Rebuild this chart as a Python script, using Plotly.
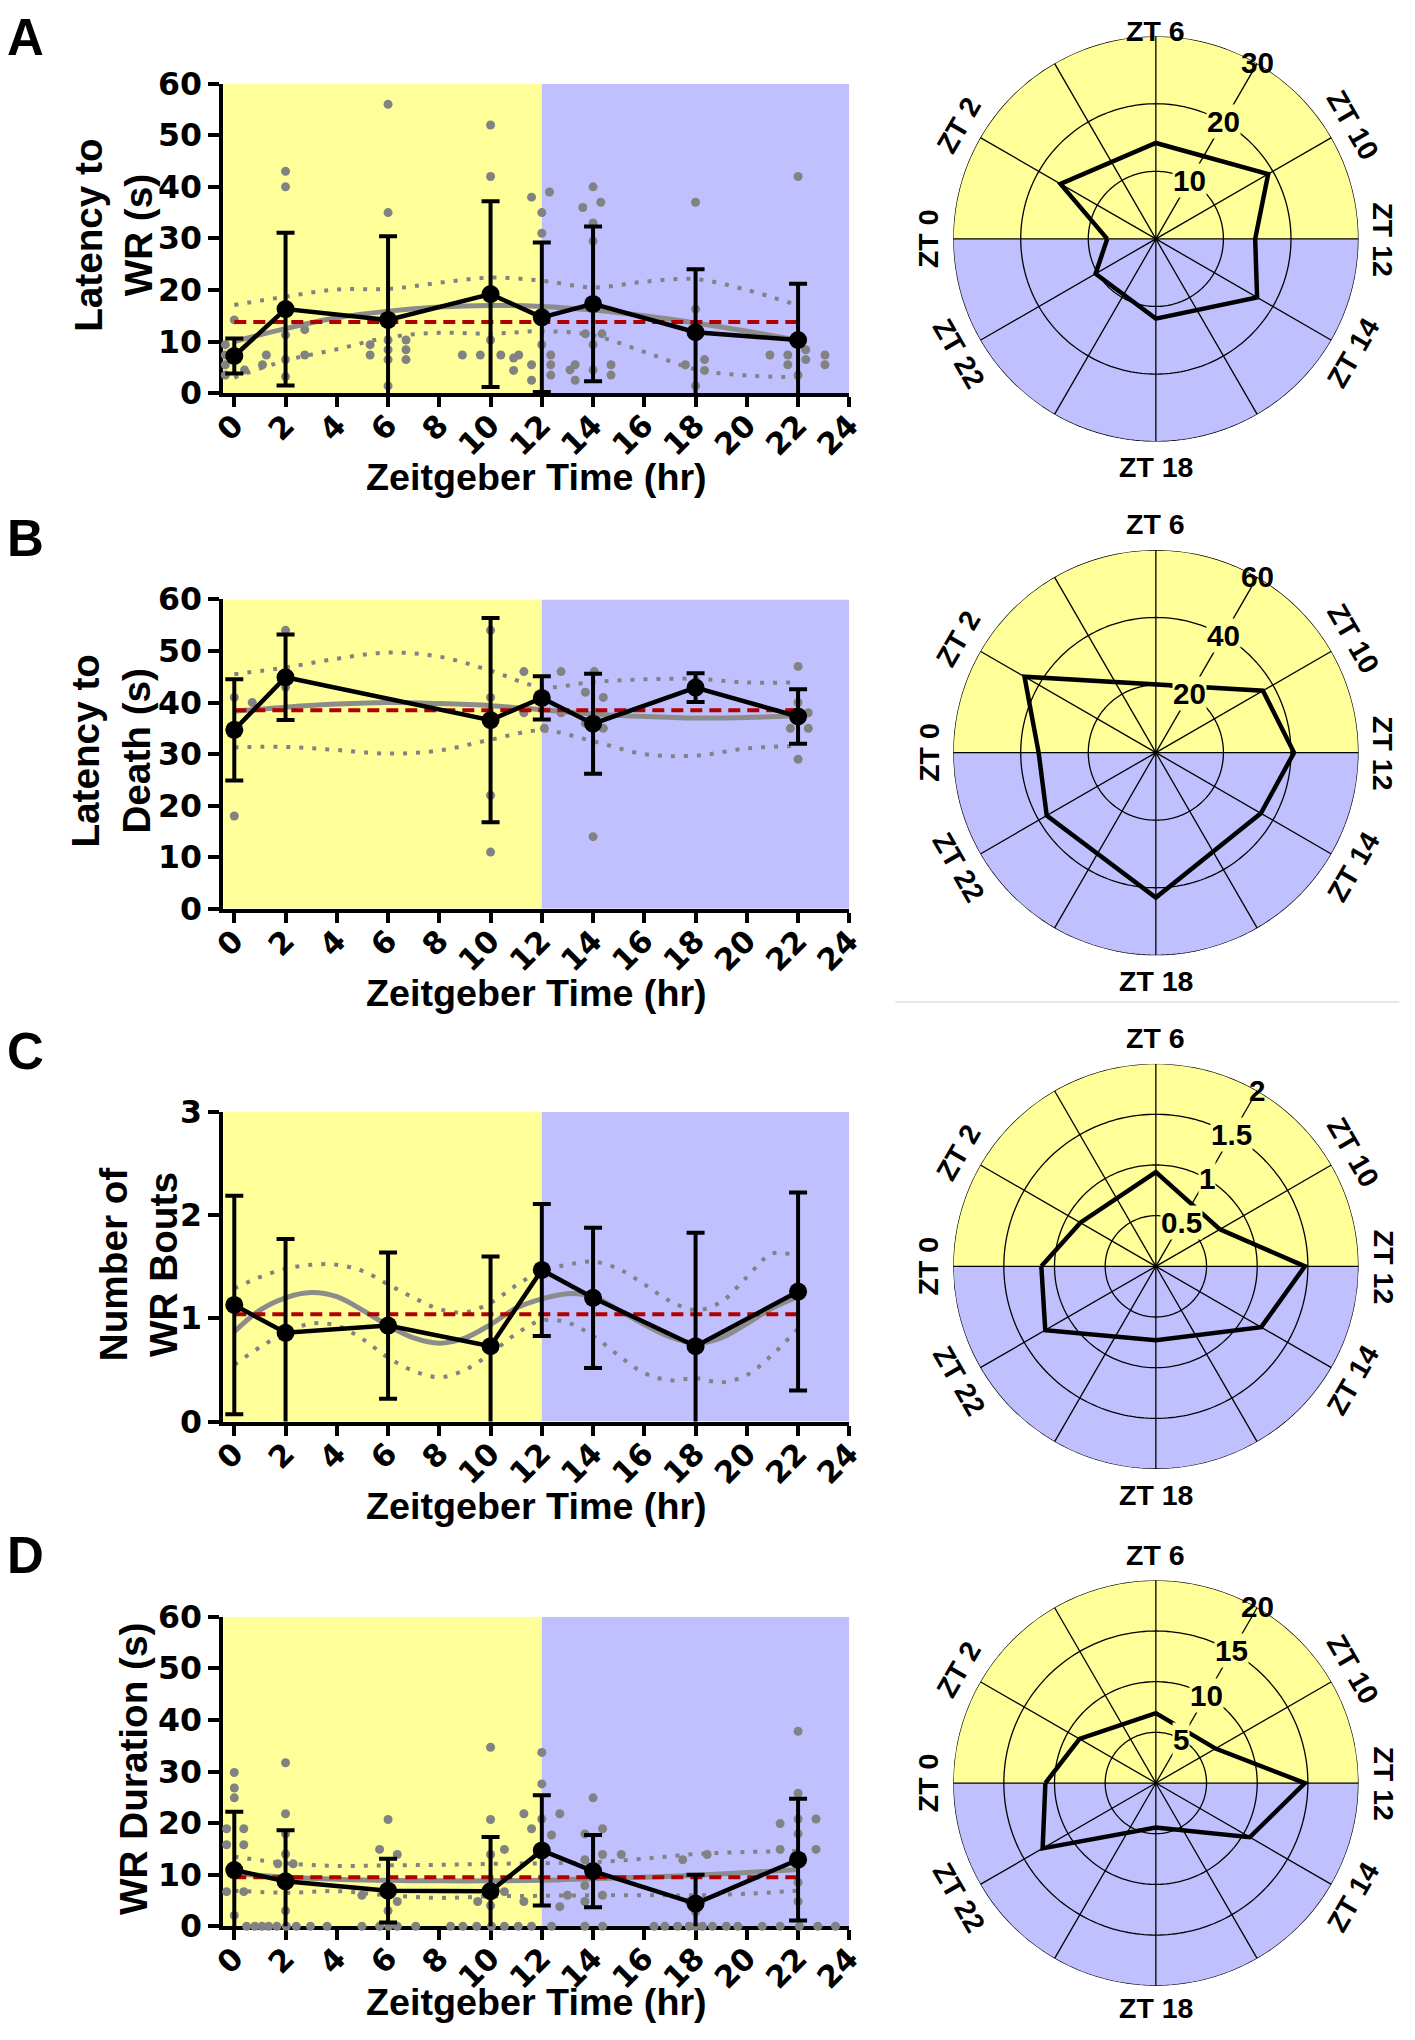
import numpy as np
import plotly.graph_objects as go

# ------------------------------------------------------------------ data
# sampling times (Zeitgeber time, hr)
zt_hours = [0, 2, 6, 10, 12, 14, 18, 22]
zt_hours_b = [0, 2, 10, 12, 14, 18, 22]          # no ZT 6 group in panel B
fit_hours = [0, 2, 4, 6, 8, 10, 12, 14, 16, 18, 20, 22]
fit_hours_c = [0, 1, 2, 3, 4, 5, 6, 7, 8, 9, 10, 11, 12, 13, 14, 15, 16, 17,
               18, 19, 20, 21, 22]
polar_labels = [0, 2, 6, 10, 12, 14, 18, 22]

# A  latency to wild running
mean_a = [7.2, 16.3, 14.2, 19.2, 14.7, 17.3, 11.8, 10.3]
sd_a = [3.4, 14.8, 16.2, 18.0, 14.5, 15.0, 12.2, 10.9]
pts_a_x = [6, 2, 2, 6, 10, 10, 11.6, 12, 12.3, 13.6, 14, 14.3, 14, 18, 22, 12, 14,
           0, -0.35, -0.35, -0.35, -0.35, 0.4, 1.25, 1.1, 2, 2, 2, 2.75, 2.75,
           5.3, 5.3, 6, 6, 6, 6, 6.7, 6.7, 6.7, 8.9, 9.6, 10, 10.4, 10.9, 10.9,
           11.1, 11.6, 11.6, 12, 12.35, 12.35, 12.35, 13.1, 13.3, 13.3, 13.7,
           14.35, 14, 14, 14.7, 14.7, 18, 17.6, 18.35, 18.35, 18, 20.9, 21.6,
           21.6, 22, 22.3, 22.3, 23.05, 23.05]
pts_a_y = [56, 43, 40, 35, 52, 42, 38, 35, 39, 36, 40, 37, 33, 37, 42, 31, 29.5,
           14.2, 9.4, 7.4, 5.5, 3.5, 4.5, 7.4, 5.5, 11.3, 6.5, 3.2, 12.3, 7.4,
           9.4, 7.4, 10.3, 8.4, 6.5, 1.4, 10.3, 8.4, 6.5, 7.4, 7.4, 10.3, 7.4,
           6.8, 4.4, 7.4, 5.5, 2.5, 9.4, 7.4, 5.5, 3.5, 4.5, 5.5, 2.5, 11.5,
           11.5, 9.4, 4.5, 5.5, 3.5, 16.3, 5.5, 6.5, 4.4, 1.4, 7.4, 7.4, 5.5,
           3.5, 8.4, 6.5, 7.4, 5.5]
fit_a = [10.0, 12.5, 14.6, 15.9, 16.7, 17.0, 16.8, 16.1, 15.0, 13.6, 12.0, 10.2]
upper_a = [17.1, 18.7, 20.1, 20.2, 21.4, 22.4, 21.8, 20.5, 21.6, 22.1, 20.0, 17.0]
lower_a = [3.0, 6.3, 8.5, 10.8, 11.7, 11.5, 12.0, 11.2, 8.0, 4.6, 3.4, 3.1]
mesor_a = 13.8

# B  latency to death
mean_b = [34.7, 44.9, 36.6, 40.9, 35.9, 42.9, 37.3]
sd_b = [9.8, 8.3, 19.8, 4.2, 9.7, 2.8, 5.3]
pts_b_x = [0, 0, 0.7, 2, 2, 10, 10, 10, 10, 11.3, 11.3, 12.1, 12.75, 12.75, 13.7,
           13.7, 14.05, 14.4, 14.4, 14, 18, 18, 22, 22, 21.7, 22.4, 21.7, 22.4, 22]
pts_b_y = [41, 18, 40, 54, 43, 54, 41, 22, 11, 46, 38, 35, 46, 38, 42, 36, 46, 41,
           35, 14, 44, 42, 47, 40, 38, 38, 35, 35, 29]
fit_b = [38.3, 39.1, 39.7, 40.0, 39.8, 39.4, 38.6, 37.8, 37.3, 37.0, 37.1, 37.5]
upper_b = [45.5, 46.8, 48.5, 49.7, 48.9, 46.2, 43.0, 44.0, 44.5, 44.6, 43.9, 43.9]
lower_b = [31.3, 31.4, 30.8, 30.1, 30.7, 32.8, 34.6, 32.5, 30.0, 29.7, 31.1, 31.6]
mesor_b = 38.5

# C  number of wild running bouts
mean_c = [1.13, 0.86, 0.93, 0.73, 1.47, 1.20, 0.73, 1.26]
sd_c = [1.06, 0.91, 0.71, 0.87, 0.64, 0.68, 1.10, 0.96]
fit_c = [0.87, 1.08, 1.20, 1.25, 1.21, 1.08, 0.93, 0.81, 0.76, 0.81, 0.94, 1.10,
         1.19, 1.24, 1.21, 1.08, 0.94, 0.82, 0.76, 0.81, 0.95, 1.10, 1.21]
upper_c = [1.29, 1.40, 1.48, 1.52, 1.52, 1.46, 1.33, 1.20, 1.09, 1.06, 1.15, 1.32,
           1.46, 1.52, 1.55, 1.48, 1.33, 1.17, 1.08, 1.16, 1.40, 1.63, 1.60]
lower_c = [0.55, 0.72, 0.86, 0.95, 0.93, 0.80, 0.62, 0.49, 0.43, 0.50, 0.66, 0.85,
           0.98, 0.96, 0.83, 0.64, 0.47, 0.40, 0.42, 0.38, 0.45, 0.65, 0.90]
mesor_c = 1.04

# D  wild running duration
mean_d = [10.9, 8.7, 6.9, 6.8, 14.7, 10.7, 4.4, 12.9]
sd_d = [11.3, 9.9, 6.2, 10.5, 10.7, 7.0, 5.6, 11.8]
pts_d_x = [0, 0, 0, -0.3, -0.3, 0.37, 0.37, -0.3, 0.37, 0,
           2, 2, 1.7, 2.3, 2, 2, 2,
           5.67, 6, 6.36, 4.98, 6, 6.36,
           10, 10, 10, 10.54, 9.5, 10, 10.54,
           11.3, 11.6, 11.3, 12, 12, 12, 12.38, 12.7, 12.7, 13,
           13.68, 14, 14.37, 13.68, 14.37, 13.68, 14.37, 13.68, 15.1,
           17.5, 18, 17.75, 18.45,
           21.3, 21.3, 22, 22, 22, 22, 22, 22.7, 22.7, 22]
pts_d_y = [29.8, 26.8, 24.9, 18.9, 15.8, 18.9, 15.8, 6.7, 6.7, 2.1,
           31.7, 21.8, 12.1, 12.1, 14, 3, 17.9,
           14.9, 20.7, 13.9, 6, 3, 4.8,
           34.7, 20.7, 13.9, 14.9, 4.8, 4, 6.7,
           21.8, 18.9, 4.8, 33.7, 27.6, 20.8, 17.7, 21.8, 3.8, 6,
           17.9, 24.9, 18.9, 12.9, 13.9, 7.9, 6, 4.8, 13.9,
           12.9, 2.8, 4.8, 13.9,
           19.9, 14.9, 37.8, 25.8, 20.8, 17.9, 4.8, 20.8, 14.9, 8.5]
d_zero_x = [0.48, 0.8, 1.08, 1.34, 1.66, 2.03, 2.42, 2.97, 3.62, 4.98, 5.67, 6.03,
            6.36, 7.08, 8.44, 8.92, 9.46, 10.04, 10.54, 11.08, 11.6, 12.38, 13.68,
            14.37, 16.38, 16.8, 17.3, 17.75, 18.0, 18.27, 18.66, 19.2, 19.65,
            20.6, 21.3, 22.05, 22.77, 23.46]
fit_d = [10.2, 9.5, 9.1, 8.9, 8.8, 8.8, 8.9, 9.2, 9.5, 9.9, 10.4, 11.0]
upper_d = [13.5, 12.2, 11.7, 11.8, 11.9, 12.1, 12.2, 12.4, 13.1, 14.0, 14.4, 14.6]
lower_d = [6.9, 6.5, 6.8, 6.0, 5.5, 5.8, 5.9, 6.0, 6.0, 6.0, 6.3, 6.9]
mesor_d = 9.5

# ------------------------------------------------------------------ style
W, H = 1415, 2040
# the photographed page comes out slightly shrunk and shifted; target
# positions (in picture pixels) are mapped back through that
SHOT_S, SHOT_DX, SHOT_DY = 0.981, 11.4, 19.4
TICK_FONT = "DejaVu Sans"
TEXT_FONT = "Liberation Sans"
YELLOW = "#FFFF99"
BLUE = "#C0C0FF"
GRAY = "#828282"
FIT_GRAY = "#8C8C8C"
RED = "#B00000"

# target positions, picture pixels
PLOT_X0, PLOT_X1 = 222, 849
PLOT_TOPS = [85, 600, 1112, 1616]
PLOT_H = 309
XMIN = -0.43
POLAR_CX = 1156
POLAR_CY = [240, 753, 1266, 1782]
POLAR_R = 203

panels = [
    dict(letter="A", ytitle="Latency to<br>WR (s)", ytx=112, hours=zt_hours,
         mean=mean_a, sd=sd_a, px=pts_a_x, py=pts_a_y, fx=fit_hours, fit=fit_a,
         up=upper_a, lo=lower_a, mesor=mesor_a, ymax=60, dtick=10,
         rticks=[10, 20, 30]),
    dict(letter="B", ytitle="Latency to<br>Death (s)", ytx=109, hours=zt_hours_b,
         mean=mean_b, sd=sd_b, px=pts_b_x, py=pts_b_y, fx=fit_hours, fit=fit_b,
         up=upper_b, lo=lower_b, mesor=mesor_b, ymax=60, dtick=10,
         rticks=[20, 40, 60]),
    dict(letter="C", ytitle="Number of<br>WR Bouts", ytx=137, hours=zt_hours,
         mean=mean_c, sd=sd_c, px=[], py=[], fx=fit_hours_c, fit=fit_c,
         up=upper_c, lo=lower_c, mesor=mesor_c, ymax=3, dtick=1,
         rticks=[0.5, 1, 1.5, 2]),
    dict(letter="D", ytitle="WR Duration (s)", ytx=132, hours=zt_hours,
         mean=mean_d, sd=sd_d, px=pts_d_x + d_zero_x,
         py=pts_d_y + [0] * len(d_zero_x), fx=fit_hours, fit=fit_d,
         up=upper_d, lo=lower_d, mesor=mesor_d, ymax=60, dtick=10,
         rticks=[5, 10, 15, 20]),
]


def page_x(px):
    return (px - SHOT_DX) / SHOT_S


def page_y(py):
    return (py - SHOT_DY) / SHOT_S


def fx_(px):
    return page_x(px) / W


def fy_(py, lo=None, hi=None):
    # lo / hi keep a text's centre far enough from the page edges
    y = page_y(py)
    if lo is not None:
        y = max(y, lo)
    if hi is not None:
        y = min(y, hi)
    return 1 - y / H


def font(size, family=TEXT_FONT):
    return dict(family=family, size=round(size / SHOT_S, 1), color="black",
                weight="bold")


def note(px, py, text, size, lo=None, hi=None, **kw):
    return dict(x=fx_(px), y=fy_(py, lo, hi), xref="paper", yref="paper",
                text=text, showarrow=False, xanchor="center", yanchor="middle",
                font=font(size), **kw)


fig = go.Figure()
layout = {}
shapes = []
annotations = []

for n, p in enumerate(panels, start=1):
    sfx = "" if n == 1 else str(n)
    xa, ya, pa = "x" + sfx, "y" + sfx, "polar" + sfx
    top = PLOT_TOPS[n - 1]
    bottom = top + PLOT_H
    cy = POLAR_CY[n - 1]
    rmax = p["rticks"][-1]

    # ---------------- cartesian panel
    layout["xaxis" + sfx] = dict(
        domain=[fx_(PLOT_X0), fx_(PLOT_X1)], anchor=ya, range=[XMIN, 24],
        tick0=0, dtick=2, ticks="outside", ticklen=10, tickwidth=4,
        tickcolor="black", showline=True, linewidth=4, linecolor="black",
        showgrid=False, zeroline=False, tickangle=-45,
        tickfont=font(30, TICK_FONT), ticklabelstandoff=-12,
        layer="below traces")
    layout["yaxis" + sfx] = dict(
        domain=[fy_(bottom), fy_(top)], anchor=xa, range=[0, p["ymax"]],
        tick0=0, dtick=p["dtick"], ticks="outside", ticklen=11, tickwidth=4,
        tickcolor="black", showline=True, linewidth=4, linecolor="black",
        showgrid=False, zeroline=False, tickfont=font(31, TICK_FONT),
        layer="below traces")

    shapes.append(dict(type="rect", xref=xa, yref=ya, x0=XMIN, x1=12, y0=0,
                       y1=p["ymax"], fillcolor=YELLOW, line_width=0, layer="below"))
    shapes.append(dict(type="rect", xref=xa, yref=ya, x0=12, x1=24, y0=0,
                       y1=p["ymax"], fillcolor=BLUE, line_width=0, layer="below"))

    if p["px"]:
        fig.add_trace(go.Scatter(x=p["px"], y=p["py"], mode="markers",
                                 marker=dict(color=GRAY, size=9), cliponaxis=False,
                                 xaxis=xa, yaxis=ya))
    for band in (p["up"], p["lo"]):
        fig.add_trace(go.Scatter(x=p["fx"], y=band, mode="lines",
                                 line=dict(color=GRAY, width=4, dash="4px,9px",
                                           shape="spline"),
                                 xaxis=xa, yaxis=ya))
    fig.add_trace(go.Scatter(x=p["fx"], y=p["fit"], mode="lines",
                             line=dict(color=FIT_GRAY, width=5, shape="spline"),
                             xaxis=xa, yaxis=ya))
    fig.add_trace(go.Scatter(x=[p["hours"][0], p["hours"][-1]],
                             y=[p["mesor"], p["mesor"]], mode="lines",
                             line=dict(color=RED, width=4, dash="12px,7px"),
                             xaxis=xa, yaxis=ya))
    fig.add_trace(go.Scatter(x=p["hours"], y=p["mean"], mode="lines+markers",
                             line=dict(color="black", width=4.5),
                             marker=dict(color="black", size=18),
                             error_y=dict(type="data", array=p["sd"], visible=True,
                                          color="black", thickness=4, width=9),
                             xaxis=xa, yaxis=ya))

    # axis titles and panel letter
    annotations.append(note(p["ytx"], top + PLOT_H / 2 - 3, p["ytitle"], 38,
                            textangle=-90))
    annotations.append(note((PLOT_X0 + PLOT_X1) / 2, bottom + 84,
                            "Zeitgeber Time (hr)", 37, hi=H - 20))
    annotations.append(note(24, top - 61, p["letter"], 50, lo=20))

    # ---------------- polar panel
    R = POLAR_R
    layout[pa] = dict(
        domain=dict(x=[fx_(POLAR_CX - R), fx_(POLAR_CX + R)],
                    y=[fy_(cy + R), fy_(cy - R)]),
        bgcolor="rgba(0,0,0,0)",
        angularaxis=dict(rotation=180, direction="clockwise", showgrid=False,
                         showticklabels=False, showline=False, ticks=""),
        radialaxis=dict(range=[0, rmax], visible=False))

    for th, col in ((90, YELLOW), (270, BLUE)):
        fig.add_trace(go.Barpolar(r=[rmax], theta=[th], width=[180],
                                  marker=dict(color=col, line=dict(width=0)),
                                  subplot=pa))

    ring = np.linspace(0, 360, 241)
    gr, gt = [], []
    for v in p["rticks"]:
        gr += [v] * len(ring) + [None]
        gt += list(ring) + [None]
    for a in range(0, 360, 30):
        gr += [0, rmax, None]
        gt += [a, a, None]
    fig.add_trace(go.Scatterpolar(r=gr, theta=gt, mode="lines",
                                  line=dict(color="black", width=1.3), subplot=pa))

    fig.add_trace(go.Scatterpolar(r=p["mean"] + p["mean"][:1],
                                  theta=[15 * h for h in p["hours"] + p["hours"][:1]],
                                  mode="lines", line=dict(color="black", width=4.5),
                                  subplot=pa))

    # ZT labels, written tangentially round the dial
    RL = R + 25
    for h in polar_labels:
        deg = 180 - 15 * h
        lx = POLAR_CX + RL * np.cos(np.radians(deg))
        ly = cy - RL * np.sin(np.radians(deg))
        ang = 90 - deg if deg >= 0 else -90 - deg
        annotations.append(note(lx, ly, f"ZT {h}", 28, lo=13, hi=H - 14,
                                textangle=ang))

    # radial tick labels along the 60 degree spoke
    for v in p["rticks"]:
        rp = R * v / rmax
        lx = POLAR_CX + rp * np.cos(np.radians(60))
        ly = cy - rp * np.sin(np.radians(60))
        extra = dict(bgcolor=YELLOW, borderpad=0) if v < rmax else {}
        annotations.append(note(lx, ly, f"{v:g}", 29, **extra))

# faint separator line seen between the B and C dials
shapes.append(dict(type="line", xref="paper", yref="paper", x0=fx_(895), x1=1,
                   y0=fy_(1002), y1=fy_(1002),
                   line=dict(color="#E8E8E8", width=2)))

fig.update_layout(**layout)
fig.update_layout(
    width=W, height=H, autosize=False,
    margin=dict(l=0, r=0, t=0, b=0),
    paper_bgcolor="white", plot_bgcolor="white",
    showlegend=False, shapes=shapes, annotations=annotations,
)

fig.write_html("out.html", config={"displayModeBar": False},
               post_script="document.body.style.margin='0';")
